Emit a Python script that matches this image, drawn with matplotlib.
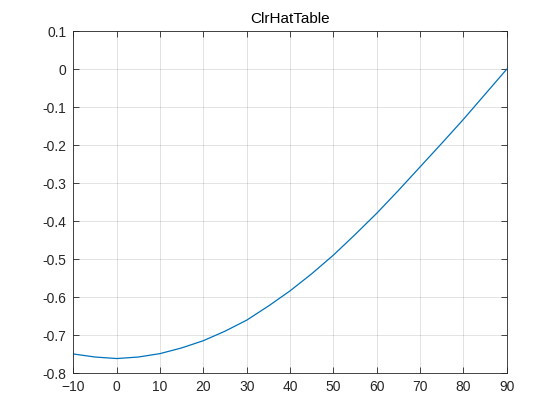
import matplotlib
matplotlib.use('Agg')
import matplotlib.pyplot as plt

# --- Dados ---
angulos = [-10, -5, 0, 5, 10, 15, 20, 25, 30, 35, 40, 45,
           50, 55, 60, 65, 70, 75, 80, 85, 90]
valores = [-0.749, -0.757, -0.761, -0.757, -0.748, -0.733, -0.714, -0.689,
           -0.660, -0.623, -0.583, -0.538, -0.489, -0.435, -0.379, -0.319,
           -0.257, -0.195, -0.132, -0.066, 0.0]
xTicks = list(range(-10, 91, 10))
yTicks = [-0.8, -0.7, -0.6, -0.5, -0.4, -0.3, -0.2, -0.1, 0, 0.1]
yTickLabels = ['-0.8', '-0.7', '-0.6', '-0.5', '-0.4', '-0.3', '-0.2', '-0.1', '0', '0.1']

plt.rcParams['font.family'] = ['Liberation Sans', 'DejaVu Sans']

corEixo = '#262626'
fig = plt.figure(figsize=(5.6, 4.2), dpi=100)
ax = fig.add_axes([0.131, 0.111, 0.774, 0.815])

ax.plot(angulos, valores, color='#0072BD', linewidth=0.9)

ax.set_xlim(-10, 90)
ax.set_ylim(-0.8, 0.1)
ax.set_xticks(xTicks)
ax.set_yticks(yTicks)
ax.set_yticklabels(yTickLabels)

ax.grid(True, color='#262626', alpha=0.15, linewidth=0.6)
ax.tick_params(direction='in', top=True, right=True, length=4, width=0.6,
               colors=corEixo, labelsize=10, pad=5)
for lado in ax.spines.values():
    lado.set_color(corEixo)
    lado.set_linewidth(0.6)

ax.set_title('ClrHatTable', fontsize=11, color='black', pad=6)

fig.savefig('out.png', dpi=100)
